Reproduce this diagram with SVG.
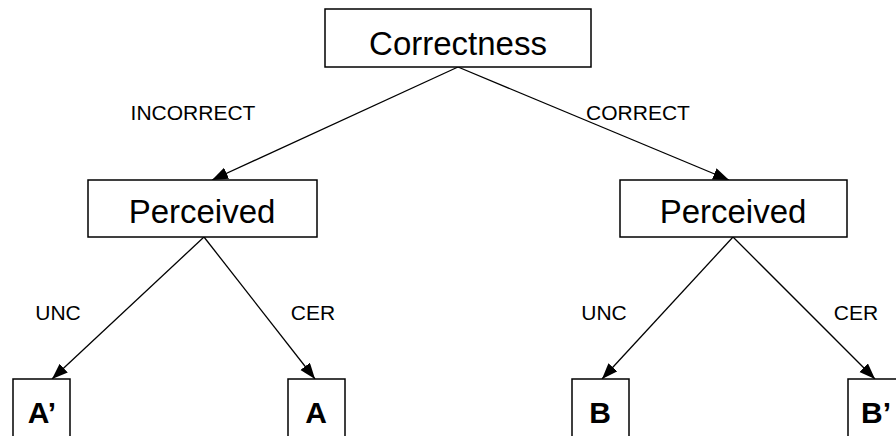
<svg xmlns="http://www.w3.org/2000/svg" width="896" height="436" viewBox="0 0 896 436">
<style>
.box{fill:#fff;stroke:#000;stroke-width:1.5}
.t{font-family:"Liberation Sans",Arial,sans-serif;fill:#000;text-anchor:middle}
.big{font-size:33px}
.lbl{font-size:21px}
.leaf{font-size:30px;font-weight:bold}
.edge{stroke:#000;stroke-width:1.3;fill:none;marker-end:url(#ah)}
</style>
<defs>
<marker id="ah" markerUnits="userSpaceOnUse" markerWidth="18" markerHeight="14" refX="16" refY="6" orient="auto">
<path d="M0,0 L16,6 L0,12 Z" fill="#000"/>
</marker>
</defs>
<rect width="896" height="436" fill="#fff"/>
<g id="connectors">
<line class="edge" x1="458" y1="67" x2="212" y2="180"/>
<line class="edge" x1="458" y1="67" x2="729" y2="180"/>
<line class="edge" x1="204" y1="237" x2="52" y2="379"/>
<line class="edge" x1="204" y1="237" x2="315" y2="379"/>
<line class="edge" x1="733" y1="237" x2="602" y2="379"/>
<line class="edge" x1="733" y1="237" x2="875" y2="379"/>
</g>
<g id="edge-labels">
<text class="t lbl" x="193" y="120">INCORRECT</text>
<text class="t lbl" x="638" y="120">CORRECT</text>
<text class="t lbl" x="58" y="320">UNC</text>
<text class="t lbl" x="313" y="320">CER</text>
<text class="t lbl" x="604" y="320">UNC</text>
<text class="t lbl" x="856" y="320">CER</text>
</g>
<g id="correctness">
<rect class="box" x="325" y="9" width="266" height="58"/>
<text class="t big" x="458" y="55">Correctness</text>
</g>
<g id="perceived-left">
<rect class="box" x="88" y="180" width="229" height="57"/>
<text class="t big" x="202" y="223">Perceived</text>
</g>
<g id="perceived-right">
<rect class="box" x="620" y="180" width="227" height="57"/>
<text class="t big" x="733" y="223">Perceived</text>
</g>
<g id="leaf-a-prime">
<rect class="box" x="13" y="379" width="57" height="70"/>
<text class="t leaf" x="42" y="423">A’</text>
</g>
<g id="leaf-a">
<rect class="box" x="288" y="379" width="57" height="70"/>
<text class="t leaf" x="316" y="423">A</text>
</g>
<g id="leaf-b">
<rect class="box" x="572" y="379" width="57" height="70"/>
<text class="t leaf" x="600" y="423">B</text>
</g>
<g id="leaf-b-prime">
<rect class="box" x="848" y="379" width="57" height="70"/>
<text class="t leaf" x="876" y="423">B’</text>
</g>
</svg>
